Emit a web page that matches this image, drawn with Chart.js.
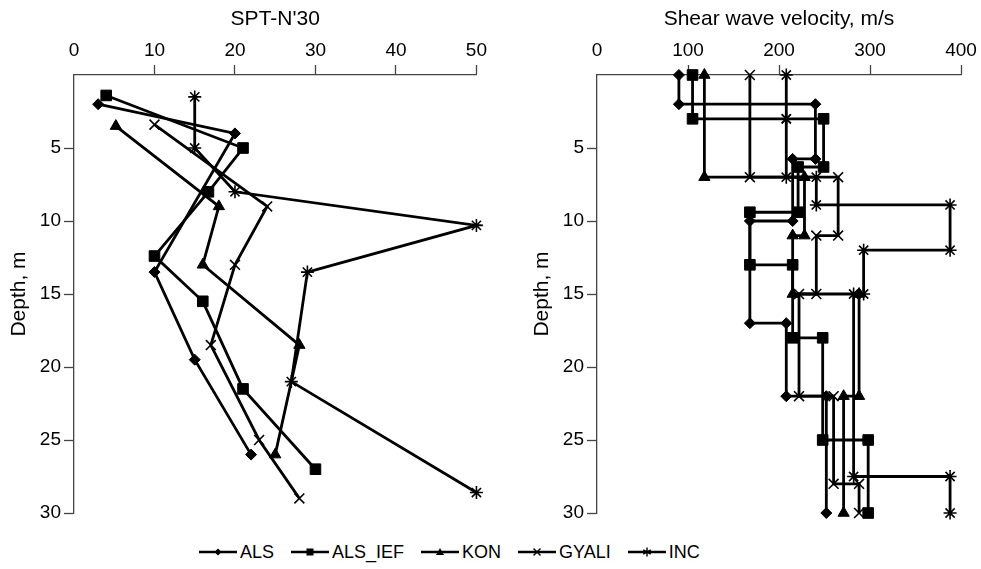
<!DOCTYPE html>
<html>
<head>
<meta charset="utf-8">
<script src="https://cdn.jsdelivr.net/npm/chart.js@4.4.0/dist/chart.umd.min.js"></script>
<style>
  body { margin:0; background:#fff; width:981px; height:569px; overflow:hidden; position:relative;
         font-family:"Liberation Sans", Arial, sans-serif; }
  #wrapL { position:absolute; left:0; top:0; width:490px; height:530px; }
  #wrapR { position:absolute; left:523px; top:0; width:458px; height:530px; }
  #legend { position:absolute; left:199px; top:541px; display:flex; align-items:center;
            font-size:18px; line-height:22px; color:#000; }
  #legend .item { display:flex; align-items:center; margin-right:17px; }
  #legend svg { margin-right:3px; }
</style>
</head>
<body>
<div id="wrapL"><canvas id="spt"></canvas></div>
<div id="wrapR"><canvas id="vs"></canvas></div>
<div id="legend"></div>
<script>
// ---- SPT-N'30 vs depth ----
const alsN = [3, 20, 10, 15, 22];
const alsD = [2, 4, 13.5, 19.5, 26];
const alsIefN = [4, 21, 16.7, 10, 16, 21, 30];
const alsIefD = [1.4, 5, 8, 12.4, 15.5, 21.5, 27];
const konN = [5.2, 18, 16, 28, 25];
const konD = [3.5, 9, 13, 18.5, 26];
const gyaliN = [10, 24, 20, 17, 23, 28];
const gyaliD = [3.4, 9, 13, 18.5, 25, 29];
const incN = [15, 15, 20, 50, 29, 27, 50];
const incD = [1.5, 5, 8, 10.3, 13.5, 21, 28.6];

// ---- Shear wave velocity profiles: layer boundaries (m) and Vs per layer (m/s) ----
const alsVsTop = [0, 2, 5.75, 10, 17, 22, 30];
const alsVs = [90, 240, 215, 168, 208, 252];
const alsIefVsTop = [0, 3, 6.3, 9.4, 13, 18, 25, 30];
const alsIefVs = [105, 249, 221, 168, 215, 248, 298];
const konVsTop = [0, 7, 11, 15, 22, 30];
const konVs = [118, 228, 215, 288, 271];
const gyaliVsTop = [0, 7, 11, 15, 22, 28, 30];
const gyaliVs = [168, 265, 241, 222, 260, 288];
const incVsTop = [0, 3, 7, 8.9, 12, 15, 27.5, 30];
const incVs = [208, 208, 241, 388, 293, 282, 388];

const sptTicks = [0, 10, 20, 30, 40, 50];
const vsTicks = [0, 100, 200, 300, 400];
const depthTicks = [0, 5, 10, 15, 20, 25, 30];

const names = ['ALS', 'ALS_IEF', 'KON', 'GYALI', 'INC'];
const styles = [
  { pointStyle: 'rectRot', pointRadius: 5.5, pointBorderWidth: 1 },
  { pointStyle: 'rect', pointRadius: 7.5, pointBorderWidth: 1 },
  { pointStyle: 'triangle', pointRadius: 6.5, pointBorderWidth: 1 },
  { pointStyle: 'crossRot', pointRadius: 7, pointBorderWidth: 1.6 },
  { pointStyle: 'star', pointRadius: 6.5, pointBorderWidth: 1.6 }
];

const zip = (xs, ys) => xs.map((x, i) => ({ x, y: ys[i] }));
const steps = (tops, vs) => {
  const pts = [];
  vs.forEach((v, i) => { pts.push({ x: v, y: tops[i] }); pts.push({ x: v, y: tops[i + 1] }); });
  return pts;
};

const ds = (i, data) => Object.assign({
  label: names[i], data, showLine: true, borderColor: '#000', borderWidth: 2.8, clip: false,
  backgroundColor: '#000', pointBackgroundColor: '#000', pointBorderColor: '#000', tension: 0
}, styles[i]);

Chart.defaults.font.family = '"Liberation Sans", Arial, sans-serif';
Chart.defaults.color = '#000';

function axisCfg(title, min, max, ticks, isX) {
  return {
    type: 'linear', position: isX ? 'top' : 'left', reverse: !isX, min, max,
    afterBuildTicks: s => { s.ticks = ticks.map(v => ({ value: v })); },
    afterFit: s => { if (isX) s.height = 75; else s.width = 74; },
    ticks: { color: '#000', font: { size: 19 }, padding: 3,
             callback: v => (!isX && v === 0) ? '' : v },
    grid: { drawOnChartArea: false, drawTicks: true, tickLength: 10, tickWidth: 1.3,
            tickColor: c => (c.tick && c.tick.value === 0) ? 'rgba(0,0,0,0)' : '#444' },
    border: { display: true, color: '#444', width: 1.3 },
    title: { display: true, text: title, color: '#000', font: { size: 21 }, padding: { top: 7, bottom: 0 } }
  };
}

function makeChart(id, datasets, xTitle, xMax, xTicks, padRight) {
  return new Chart(document.getElementById(id), {
    type: 'scatter',
    data: { datasets },
    options: {
      responsive: true, maintainAspectRatio: false, animation: false,
      layout: { padding: { left: 0, top: 0, right: padRight, bottom: 17 } },
      plugins: { legend: { display: false }, tooltip: { enabled: false } },
      scales: {
        x: axisCfg(xTitle, 0, xMax, xTicks, true),
        y: axisCfg('Depth, m', 0, 30, depthTicks, false)
      }
    }
  });
}

makeChart('spt', [
  ds(0, zip(alsN, alsD)), ds(1, zip(alsIefN, alsIefD)), ds(2, zip(konN, konD)),
  ds(3, zip(gyaliN, gyaliD)), ds(4, zip(incN, incD))
], "SPT-N'30", 50, sptTicks, 13);

makeChart('vs', [
  ds(0, steps(alsVsTop, alsVs)), ds(1, steps(alsIefVsTop, alsIefVs)), ds(2, steps(konVsTop, konVs)),
  ds(3, steps(gyaliVsTop, gyaliVs)), ds(4, steps(incVsTop, incVs))
], 'Shear wave velocity, m/s', 400, vsTicks, 20);

// legend
const glyph = [
  '<path d="M15.5 7 L19 3.5 L22.5 7 L19 10.5 Z"/>',
  '<rect x="15.5" y="3.5" width="7" height="7"/>',
  '<path d="M19 3 L23 10 L15 10 Z"/>',
  '<path d="M15.5 3.5 L22.5 10.5 M22.5 3.5 L15.5 10.5" stroke="#000" stroke-width="1.4" fill="none"/>',
  '<path d="M19 2.5 L19 11.5 M15.2 4.8 L22.8 9.2 M22.8 4.8 L15.2 9.2" stroke="#000" stroke-width="1.4" fill="none"/>'
];
document.getElementById('legend').innerHTML = names.map((n, i) =>
  '<div class="item"><svg width="38" height="14"><line x1="0" y1="7" x2="38" y2="7" stroke="#000" stroke-width="2.5"/>' +
  glyph[i] + '</svg><span>' + n + '</span></div>').join('');
</script>
</body>
</html>
